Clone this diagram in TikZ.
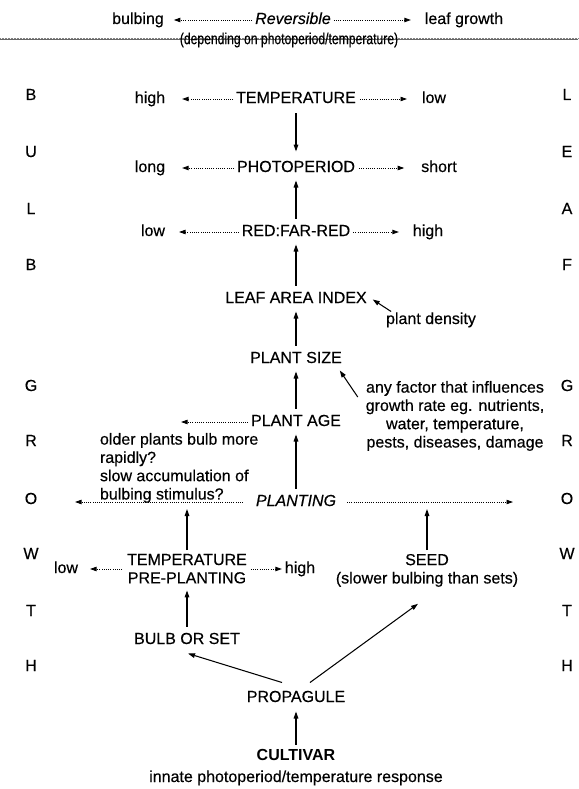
\documentclass[tikz,border=0pt]{standalone}
\usepackage{fontspec}
\usepackage{graphicx}
\setmainfont{Liberation Sans}[UprightFeatures={FakeBold=0.35}, ItalicFeatures={FakeBold=0.35}]
\usetikzlibrary{arrows.meta}
\begin{document}
\begin{tikzpicture}[x=1pt,y=-1pt,
  lbl/.style={inner sep=0pt, outer sep=0pt, font=\fontsize{16}{18.5}\selectfont, text height=11.5pt, text depth=3.5pt},
  mline/.style={inner sep=0pt, outer sep=0pt, font=\fontsize{16}{18.3}\selectfont},
  side/.style={lbl},
  arr/.style={line width=1.05pt, -{Triangle[length=7pt,width=4.6pt]}},
  darr/.style={line width=0.85pt, dash pattern=on 0.8pt off 1.4pt, -{Triangle[length=6.5pt,width=4.4pt]}},
]
\useasboundingbox (0,0) rectangle (578,789);
\fill[white] (0,0) rectangle (578,789);

% top row
\node[lbl] (bulbing) at (138,20) {bulbing};
\node[lbl,font=\fontsize{16}{18.5}\selectfont\itshape] (rev) at (293,20) {Reversible};
\node[lbl] (leaf) at (464,20) {leaf growth};
\draw[darr, shorten <=3pt, shorten >=10pt] (rev.west) -- (rev.west -| bulbing.east);
\draw[darr, shorten <=3pt, shorten >=14pt] (rev.east) -- (rev.east -| leaf.west);

% reversible line
\coordinate (lineL) at (0,38);
\coordinate (lineR) at (578,38);
\draw[black!50, line width=0.6pt, dash pattern=on 0.6pt off 0.9pt] (lineL) -- (lineR);
\draw[black!60, line width=0.6pt] ([yshift=-1.7pt]lineL) -- ([yshift=-1.7pt]lineR);
\node[inner sep=0pt, font=\fontsize{16}{18}\selectfont] (dep) at (289,40) {\scalebox{0.76}[1]{(depending on photoperiod/temperature)}};

% side letters
\foreach \t/\y [count=\i] in {B/96,U/153,L/210,B/266,G/387,R/442,O/500,W/555,T/612,H/667}
  \node[side] (l\i) at (31,\y) {\t};
\foreach \t/\y [count=\i] in {L/96,E/153,A/210,F/266,G/387,R/442,O/500,W/555,T/612,H/667}
  \node[side] (r\i) at (567,\y) {\t};

% temperature row
\node[lbl] (temp) at (296,99) {TEMPERATURE};
\node[lbl] (thigh) at (150,99) {high};
\node[lbl] (tlow) at (434,99) {low};
\draw[darr, shorten <=3pt, shorten >=17pt] (temp.west) -- (temp.west -| thigh.east);
\draw[darr, shorten <=4pt, shorten >=15pt] (temp.east) -- (temp.east -| tlow.west);

% photoperiod row
\node[lbl] (photo) at (296,168) {PHOTOPERIOD};
\node[lbl] (plong) at (150,168) {long};
\node[lbl] (pshort) at (439,168) {short};
\draw[darr, shorten <=3pt, shorten >=17pt] (photo.west) -- (photo.west -| plong.east);
\draw[darr, shorten <=4pt, shorten >=17pt] (photo.east) -- (photo.east -| pshort.west);

% red:far-red row
\node[lbl] (red) at (296,232) {RED:FAR-RED};
\node[lbl] (rlow) at (153,232) {low};
\node[lbl] (rhigh) at (428,232) {high};
\draw[darr, shorten <=3pt, shorten >=14pt] (red.west) -- (red.west -| rlow.east);
\draw[darr, shorten <=3pt, shorten >=14pt] (red.east) -- (red.east -| rhigh.west);

% main column
\node[lbl] (lai) at (296,299) {LEAF AREA INDEX};
\node[lbl] (density) at (431,320) {plant density};
\node[lbl] (size) at (296,359) {PLANT SIZE};
\node[mline, anchor=north, align=center] (anyf) at (455,381) {any factor that influences\\growth rate eg. nutrients,\\water, temperature,\\pests, diseases, damage};
\node[lbl] (age) at (296,422) {PLANT AGE};
\coordinate (ageL) at (181,422);
\node[mline, anchor=north west, align=left] (older) at (100,433) {older plants bulb more\\rapidly?\\slow accumulation of\\bulbing stimulus?};
\node[lbl,font=\fontsize{16}{18.5}\selectfont\itshape] (plant) at (296,502) {PLANTING};
\coordinate (plL) at (75,502);
\coordinate (plR) at (513,502);

\draw[arr, shorten <=7pt, shorten >=9pt] (temp.south) -- (photo.north);
\draw[arr, shorten <=6pt, shorten >=5pt] (red.north) -- (photo.south);
\draw[arr, shorten <=6pt, shorten >=5pt] (lai.north) -- (red.south);
\draw[arr, shorten <=6pt, shorten >=5pt] (size.north) -- (lai.south);
\draw[arr, shorten <=6pt, shorten >=5pt] (age.north) -- (size.south);
\draw[arr, shorten <=6pt, shorten >=5pt] (plant.north) -- (age.south);
\draw[arr] ([xshift=5pt,yshift=1pt]density.north west) -- ([xshift=6pt,yshift=7pt]lai.south east);
\draw[arr] ([xshift=-8pt,yshift=-16pt]anyf.north west) -- ([xshift=-2pt,yshift=-4pt]size.south east);
\draw[darr, shorten <=3pt] (age.west) -- (age.west -| ageL);
\draw[darr, shorten <=13pt] (plant.west) -- (plL);
\draw[darr, shorten <=11pt] (plant.east) -- (plR);

% lower part
\node[mline, anchor=north, align=center] (tpre) at (187,554) {TEMPERATURE\\PRE-PLANTING};
\node[lbl] (plow) at (66,569) {low};
\node[lbl] (phigh) at (300,569) {high};
\draw[darr, shorten <=5pt, shorten >=12pt] (tpre.west |- plow.east) -- (plow.east);
\draw[darr, shorten <=4pt, shorten >=3pt] (tpre.east |- phigh.west) -- (phigh.west);
\node[mline, anchor=north, align=center] (seed) at (427,554) {SEED\\(slower bulbing than sets)};
\draw[arr, shorten <=4pt, shorten >=7pt] (tpre.north) -- (tpre.north |- plL);
\draw[arr, shorten <=4pt, shorten >=7pt] (seed.north) -- (seed.north |- plR);

\node[lbl] (bulb) at (187,640) {BULB OR SET};
\node[lbl] (prop) at (296,698) {PROPAGULE};
\node[lbl,font=\fontsize{16}{18.5}\selectfont\bfseries] (cult) at (296,756) {CULTIVAR};
\node[lbl] (innate) at (296,778) {innate photoperiod/temperature response};

\draw[arr, shorten <=6pt, shorten >=7pt] (bulb.north) -- (tpre.south);
\draw[arr] ([xshift=-14pt,yshift=8pt]prop.north) -- ([xshift=1pt,yshift=-6pt]bulb.south);
\draw[arr] ([xshift=14pt,yshift=8pt]prop.north) -- ([xshift=-9pt,yshift=-17pt]seed.south);
\draw[arr, shorten <=4pt, shorten >=6pt] (cult.north) -- (prop.south);
\end{tikzpicture}
\end{document}
